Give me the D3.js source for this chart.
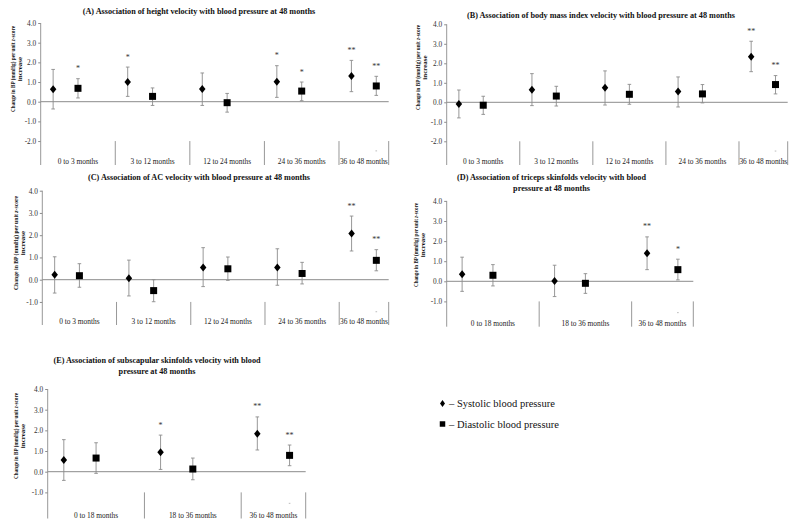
<!DOCTYPE html>
<html><head><meta charset="utf-8">
<script src="https://cdn.jsdelivr.net/npm/d3@7"></script>
<style>body{margin:0;background:#fff}svg{display:block}</style>
</head><body><svg id="c" width="800" height="527"></svg>
<script>
// ---------- DATA ----------
// Panel A: height velocity
const titleA = ["(A) Association of height velocity with blood pressure at 48 months"];
const catsA = ["0 to 3 months","3 to 12 months","12 to 24 months","24 to 36 months","36 to 48 months"];
const sysA   = [0.63, 1.00, 0.64, 1.02, 1.31];
const sysLoA = [-0.37, 0.27, -0.19, 0.22, 0.51];
const sysHiA = [1.64, 1.76, 1.46, 1.83, 2.10];
const diaA   = [0.68, 0.27, -0.05, 0.54, 0.80];
const diaLoA = [0.19, -0.19, -0.53, 0.05, 0.32];
const diaHiA = [1.17, 0.70, 0.42, 1.00, 1.29];
const sysSigA = ["", "*", "", "*", "**"];
const diaSigA = ["*", "", "", "*", "**"];
const ticksA = ["4.0","3.0","2.0","1.0","0.0","-1.0","-2.0"];

// Panel B: BMI velocity
const titleB = ["(B) Association of body mass index velocity with blood pressure at 48 months"];
const catsB = ["0 to 3 months","3 to 12 months","12 to 24 months","24 to 36 months","36 to 48 months"];
const sysB   = [-0.09, 0.65, 0.74, 0.55, 2.34];
const sysLoB = [-0.80, -0.17, -0.14, -0.24, 1.57];
const sysHiB = [0.63, 1.47, 1.61, 1.30, 3.13];
const diaB   = [-0.15, 0.32, 0.41, 0.43, 0.91];
const diaLoB = [-0.62, -0.19, -0.10, -0.03, 0.43];
const diaHiB = [0.31, 0.82, 0.92, 0.91, 1.37];
const sysSigB = ["", "", "", "", "**"];
const diaSigB = ["", "", "", "", "**"];
const ticksB = ["4.0","3.0","2.0","1.0","0.0","-1.0","-2.0"];

// Panel C: AC velocity
const titleC = ["(C) Association of AC velocity with blood pressure at 48 months"];
const catsC = ["0 to 3 months","3 to 12 months","12 to 24 months","24 to 36 months","36 to 48 months"];
const sysC   = [0.22, 0.07, 0.55, 0.55, 2.08];
const sysLoC = [-0.60, -0.73, -0.31, -0.25, 1.29];
const sysHiC = [1.03, 0.88, 1.44, 1.39, 2.86];
const diaC   = [0.18, -0.49, 0.49, 0.28, 0.87];
const diaLoC = [-0.34, -0.99, -0.03, -0.19, 0.40];
const diaHiC = [0.72, 0.00, 1.02, 0.78, 1.35];
const sysSigC = ["", "", "", "", "**"];
const diaSigC = ["", "", "", "", "**"];
const ticksC = ["4.0","3.0","2.0","1.0","0.0","-1.0"];

// Panel D: triceps skinfolds velocity
const titleD = ["(D) Association of triceps skinfolds velocity with blood", "pressure at 48 months"];
const catsD = ["0 to 18 months","18 to 36 months","36 to 48 months"];
const sysD   = [0.35, 0.02, 1.39];
const sysLoD = [-0.50, -0.76, 0.58];
const sysHiD = [1.20, 0.80, 2.21];
const diaD   = [0.30, -0.10, 0.58];
const diaLoD = [-0.23, -0.60, 0.07];
const diaHiD = [0.83, 0.38, 1.10];
const sysSigD = ["", "", "**"];
const diaSigD = ["", "", "*"];
const ticksD = ["4.0","3.0","2.0","1.0","0.0","-1.0"];

// Panel E: subscapular skinfolds velocity
const titleE = ["(E) Association of subscapular skinfolds velocity with blood", "pressure at 48 months"];
const catsE = ["0 to 18 months","18 to 36 months","36 to 48 months"];
const sysE   = [0.56, 0.94, 1.84];
const sysLoE = [-0.42, 0.11, 1.05];
const sysHiE = [1.55, 1.77, 2.65];
const diaE   = [0.66, 0.13, 0.79];
const diaLoE = [-0.08, -0.39, 0.29];
const diaHiE = [1.40, 0.66, 1.29];
const sysSigE = ["", "*", "**"];
const diaSigE = ["", "", "**"];
const ticksE = ["4.0","3.0","2.0","1.0","0.0","-1.0"];

const yLabel1 = ["Change in BP (mmHg) per unit ", "z", "-score"];
const yLabel2 = "increase";
const legendLabels = ["– Systolic blood pressure", "– Diastolic blood pressure"];

// ---------- LAYOUT ----------
const panels = [
  {title:titleA, cats:catsA, sys:sysA, sysLo:sysLoA, sysHi:sysHiA, dia:diaA, diaLo:diaLoA, diaHi:diaHiA, sSig:sysSigA, dSig:diaSigA, ticks:ticksA,
   x0:40.7, x1:388.7, y4:23.0, y0:101.7, yBot:165, divFrom:-2, titleX:199, titleY:14, labX:12, labY:69, labLen:86, dash:-2.5},
  {title:titleB, cats:catsB, sys:sysB, sysLo:sysLoB, sysHi:sysHiB, dia:diaB, diaLo:diaLoB, diaHi:diaHiB, sSig:sysSigB, dSig:diaSigB, ticks:ticksB,
   x0:446.7, x1:787.7, y4:24.3, y0:102.3, yBot:165, divFrom:-2, titleX:601, titleY:17.5, labX:417, labY:67.5, labLen:85, dash:-2.5},
  {title:titleC, cats:catsC, sys:sysC, sysLo:sysLoC, sysHi:sysHiC, dia:diaC, diaLo:diaLoC, diaHi:diaHiC, sSig:sysSigC, dSig:diaSigC, ticks:ticksC,
   x0:42.3, x1:388.7, y4:190.7, y0:279.7, yBot:325, divFrom:-1, titleX:199, titleY:179.5, labX:15, labY:243, labLen:94, dash:-1.44},
  {title:titleD, cats:catsD, sys:sysD, sysLo:sysLoD, sysHi:sysHiD, dia:diaD, diaLo:diaLoD, diaHi:diaHiD, sSig:sysSigD, dSig:diaSigD, ticks:ticksD,
   x0:446.7, x1:693.3, y4:200.9, y0:281.3, yBot:326.7, divFrom:-1, titleX:551.5, titleY:180, labX:415, labY:245, labLen:84, dash:-1.56},
  {title:titleE, cats:catsE, sys:sysE, sysLo:sysLoE, sysHi:sysHiE, dia:diaE, diaLo:diaLoE, diaHi:diaHiE, sSig:sysSigE, dSig:diaSigE, ticks:ticksE,
   x0:47.7, x1:305.7, y4:389, y0:471.7, yBot:518.5, divFrom:-1, titleX:157, titleY:363, labX:15, labY:436, labLen:86, dash:-1.53}
];

const svg = d3.select("#c");
const GRAY = "#8c8c8c";
const SERIF = "'Liberation Serif','Times New Roman',serif";

function diamondPath(w, h){ return `M0,${-h/2}L${w/2},0L0,${h/2}L${-w/2},0Z`; }
function squarePath(s){ return `M${-s/2},${-s/2}h${s}v${s}h${-s}Z`; }

panels.forEach(p => {
  const n = p.cats.length;
  const nSlots = 3*n - 1;
  const x = d3.scaleLinear().domain([0, nSlots]).range([p.x0, p.x1]);
  const y = d3.scaleLinear().domain([0, 4]).range([p.y0, p.y4]);
  const yMin = y.invert(p.yBot);
  const g = svg.append("g");

  // title
  const t = g.append("text").attr("x", p.titleX).attr("y", p.titleY)
    .attr("text-anchor","middle").attr("font-family",SERIF).attr("font-weight","bold")
    .attr("font-size", 8.2).attr("fill","#111");
  p.title.forEach((line,i) => t.append("tspan").attr("x", p.titleX).attr("dy", i===0?0:11).text(line));

  // y axis via d3.axisLeft
  const tickVals = p.ticks.map(Number);
  const axis = d3.axisLeft(y).tickValues(tickVals).tickFormat((d,i)=>p.ticks[i]).tickSize(2.5).tickPadding(2);
  const ag = g.append("g").attr("transform",`translate(${p.x0},0)`).call(axis);
  ag.select(".domain").remove();
  ag.selectAll(".tick line").attr("stroke",GRAY);
  ag.selectAll(".tick text").attr("font-family",SERIF).attr("font-size",7.3).attr("fill","#333");
  g.append("line").attr("x1",p.x0).attr("x2",p.x0).attr("y1",y(4)).attr("y2",y(yMin)).attr("stroke",GRAY).attr("stroke-width",0.9);

  // zero line
  g.append("line").attr("x1",p.x0).attr("x2",p.x1).attr("y1",y(0)).attr("y2",y(0)).attr("stroke",GRAY).attr("stroke-width",1);

  // category dividers
  const divs = d3.range(1, n).map(i => 3*i).concat([nSlots]);
  g.selectAll(".div").data(divs).join("line")
    .attr("x1",d=>x(d)).attr("x2",d=>x(d)).attr("y1",y(p.divFrom)).attr("y2",y(yMin))
    .attr("stroke",GRAY).attr("stroke-width",0.9);

  // category labels
  g.selectAll(".cat").data(p.cats).join("text")
    .attr("x",(d,i)=> i<n-1 ? x(3*i+1.5) : x((3*i + nSlots)/2))
    .attr("y", p.yBot - 1)
    .attr("text-anchor","middle").attr("font-family",SERIF).attr("font-size",7.4).attr("fill","#222")
    .text(d=>d);

  // series
  const series = [
    {v:p.sys, lo:p.sysLo, hi:p.sysHi, sig:p.sSig, off:0.5, shape:diamondPath(6.5,8)},
    {v:p.dia, lo:p.diaLo, hi:p.diaHi, sig:p.dSig, off:1.5, shape:squarePath(7)}
  ];
  series.forEach(s => {
    const pts = s.v.map((v,i)=>({v, lo:s.lo[i], hi:s.hi[i], sig:s.sig[i], xs:3*i+s.off}));
    g.selectAll(null).data(pts).join("line")
      .attr("x1",d=>x(d.xs)).attr("x2",d=>x(d.xs)).attr("y1",d=>y(d.lo)).attr("y2",d=>y(d.hi))
      .attr("stroke",GRAY).attr("stroke-width",0.9);
    [ "lo", "hi" ].forEach(k => {
      g.selectAll(null).data(pts).join("line")
        .attr("x1",d=>x(d.xs)-1.8).attr("x2",d=>x(d.xs)+1.8).attr("y1",d=>y(d[k])).attr("y2",d=>y(d[k]))
        .attr("stroke",GRAY).attr("stroke-width",0.9);
    });
    g.selectAll(null).data(pts).join("path")
      .attr("d", s.shape).attr("transform",d=>`translate(${x(d.xs)},${y(d.v)})`).attr("fill","#000");
    g.selectAll(null).data(pts.filter(d=>d.sig)).join("text")
      .attr("x",d=>x(d.xs)).attr("y",d=>y(d.hi)-7.5)
      .attr("text-anchor","middle").attr("font-family",SERIF).attr("font-size",8).attr("fill","#333")
      .text(d=>d.sig);
  });

  // small stray mark under last diastolic
  g.append("line").attr("x1",x(nSlots-0.5)-0.8).attr("x2",x(nSlots-0.5)+0.8)
    .attr("y1",y(p.dash)).attr("y2",y(p.dash)).attr("stroke","#aaa").attr("stroke-width",0.8);

  // y label
  const yl = g.append("g").attr("transform",`translate(${p.labX},${p.labY}) rotate(-90)`);
  const l1 = yl.append("text").attr("x",0).attr("y",2.5).attr("text-anchor","middle")
    .attr("font-family",SERIF).attr("font-weight","bold").attr("font-size",6.6).attr("fill","#111")
    .attr("textLength", p.labLen).attr("lengthAdjust","spacingAndGlyphs");
  l1.append("tspan").text(yLabel1[0]);
  l1.append("tspan").attr("font-style","italic").text(yLabel1[1]);
  l1.append("tspan").text(yLabel1[2]);
  yl.append("text").attr("x",0).attr("y",10).attr("text-anchor","middle")
    .attr("font-family",SERIF).attr("font-weight","bold").attr("font-size",7).attr("fill","#111").text(yLabel2);
});

// legend
const lg = svg.append("g");
lg.append("path").attr("d",diamondPath(5,7)).attr("transform","translate(442.5,403.5)").attr("fill","#000");
lg.append("path").attr("d",squarePath(5.5)).attr("transform","translate(442.5,424)").attr("fill","#000");
lg.selectAll(null).data(legendLabels).join("text")
  .attr("x",449).attr("y",(d,i)=>407+i*20.7)
  .attr("font-family",SERIF).attr("font-size",10.5).attr("fill","#111").text(d=>d);
</script></body></html>
